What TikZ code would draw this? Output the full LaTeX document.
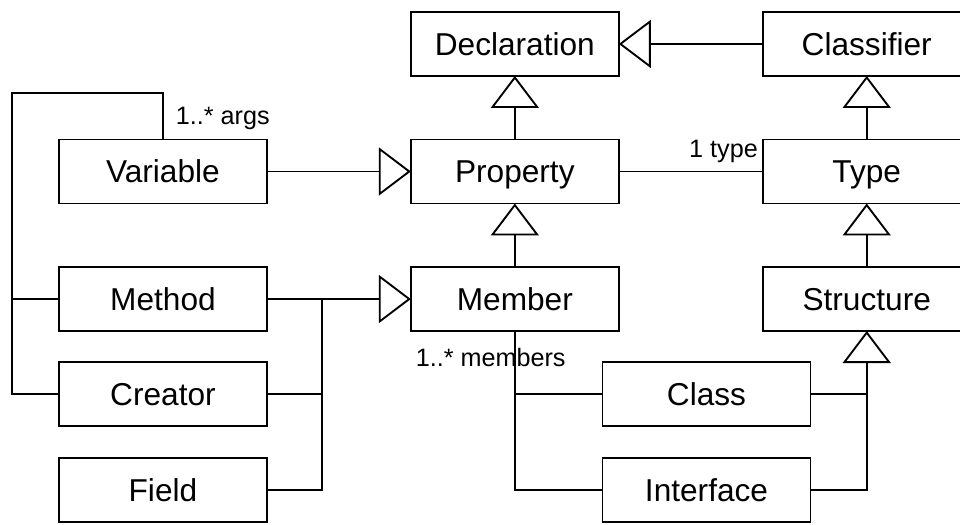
\documentclass[tikz,border=0pt]{standalone}
\usepackage{fontspec}
\setmainfont{Liberation Sans}
\usepackage{tikz}
\usetikzlibrary{matrix}
\usetikzlibrary{arrows.meta}

\begin{document}
\begin{tikzpicture}[x=0.03cm,y=-0.03cm,line width=1.6pt,
umlbox/.style={draw,rectangle,inner sep=0pt,outer sep=0pt,anchor=center,minimum width=6.24cm,minimum height=1.92cm,text height=19.3pt,text depth=0pt,font=\fontsize{27}{32}\selectfont},
mult/.style={inner sep=0pt,font=\fontsize{21.5}{26}\selectfont},
inh/.style={-{Triangle[open,length=0.96cm,width=1.44cm]}}
]
\useasboundingbox (0,0) rectangle (960,524);
\matrix (tree) [%
matrix of nodes,
anchor=north west,
inner sep=0pt,
outer sep=0pt,
nodes={umlbox},
column sep=4.26cm,
row sep=1.85cm,ampersand replacement=\&
] at (58,11)
{
	\& Declaration \& Classifier \\
	Variable \& Property \& Type \\
	Method \& Member \& Structure \\[-0.965cm]
	Creator \&   \&   \\[-0.965cm]
	Field \&   \&   \\
};
\coordinate (cx) at (706.5,0);
\node[umlbox] (class) at (cx |- tree-4-1) {Class};
\node[umlbox] (intf) at (cx |- tree-5-1) {Interface};
% generalisations
\draw[inh] (tree-1-3) -- (tree-1-2);
\draw[inh] (tree-2-2) -- (tree-1-2);
\draw[inh] (tree-3-2) -- (tree-2-2);
\draw[inh] (tree-2-3) -- (tree-1-3);
\draw[inh] (tree-3-3) -- (tree-2-3);
\draw[inh] (tree-2-1) -- (tree-2-2);
\draw[inh] (tree-3-1) -- (tree-3-2);
\coordinate (mx) at (322,0);
\draw (tree-4-1.east) -| (mx |- tree-3-1);
\draw (tree-5-1.east) -| (mx |- tree-3-1);
\draw[inh] (intf.east) -| (tree-3-3.south);
\draw (class.east) -- (class.east -| tree-3-3.south);
% associations
\coordinate (ax) at (12,93);
\draw (tree-2-1.north) |- (ax) |- (tree-4-1.west);
\draw (ax |- tree-3-1) -- (tree-3-1.west);
\node[mult,anchor=base west] (args) at ([shift={(12,-15)}]tree-2-1.north) {1..* args};
\draw (tree-2-2) -- (tree-2-3);
\node[mult,anchor=base east] (typ) at ([shift={(-4,-14)}]tree-2-3.west) {1 type};
\draw (tree-3-2.south) |- (intf.west);
\draw (tree-3-2.south |- class) -- (class.west);
\node[mult,anchor=base west] (mem) at ([shift={(-100,35)}]tree-3-2.south) {1..* members};
\end{tikzpicture}
\end{document}
